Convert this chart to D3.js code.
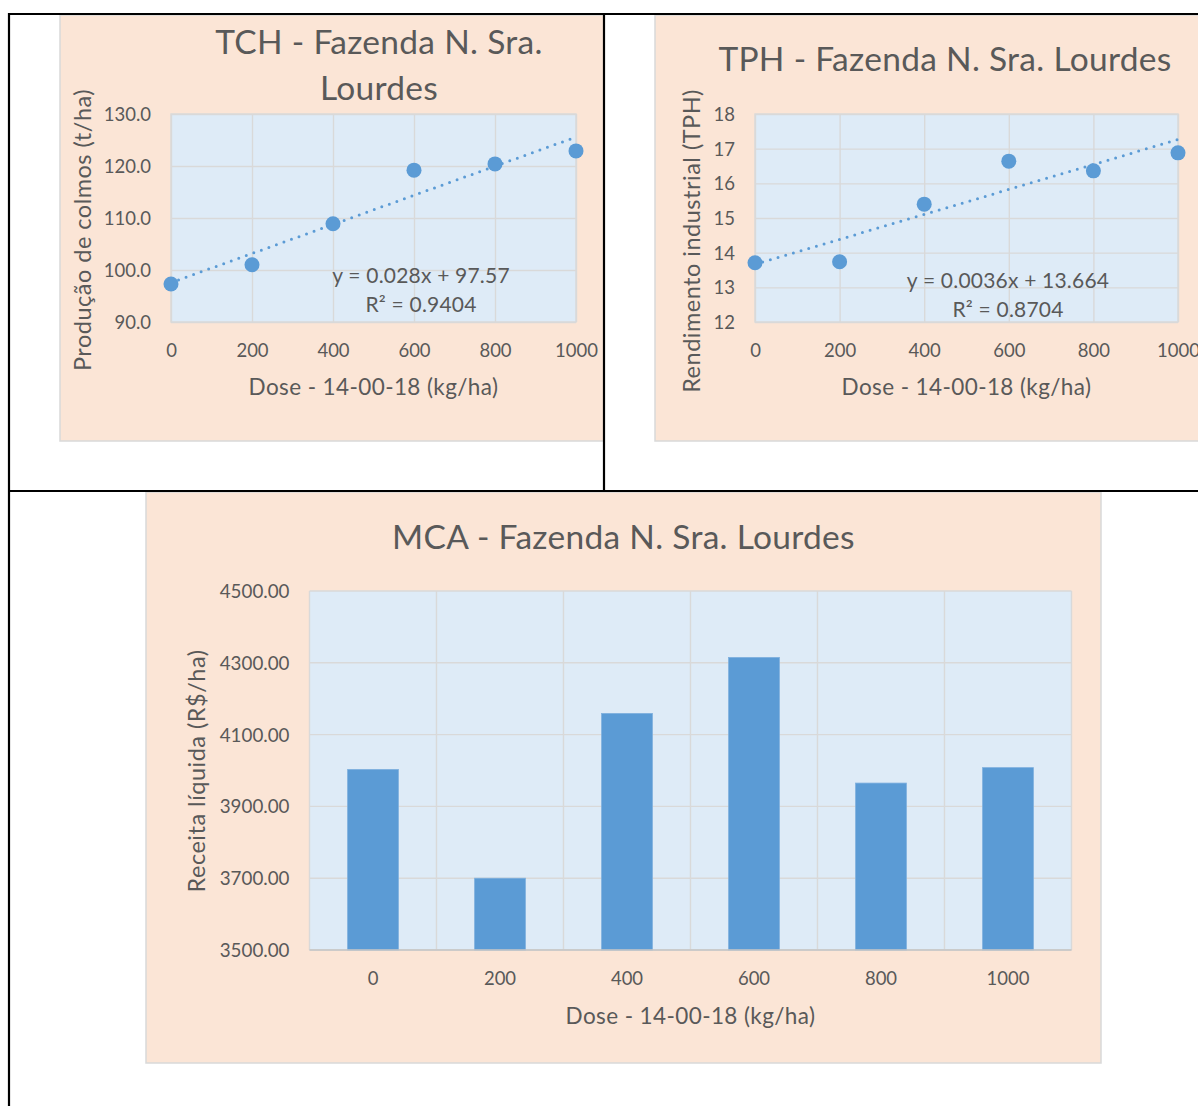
<!DOCTYPE html>
<html>
<head>
<meta charset="utf-8">
<script src="https://cdn.jsdelivr.net/npm/d3@7"></script>
<style>
  html, body { margin: 0; padding: 0; background: #fff; }
  svg { display: block; }
  text { font-family: Lato, "Open Sans", sans-serif; fill: #595959; }
  .title { font-size: 33.5px; letter-spacing: 0.3px; }
  .axtitle { font-size: 22.5px; letter-spacing: 0.4px; }
  .ytitle { font-size: 23.5px; letter-spacing: 0.5px; }
  .eq { font-size: 21px; letter-spacing: 0.2px; }
</style>
</head>
<body>
<script>
// ---------------- DATA ----------------
const doses = [0, 200, 400, 600, 800, 1000];
const doseTicks = [0, 200, 400, 600, 800, 1000];
const doseLabels = ["0", "200", "400", "600", "800", "1000"];

const tchValues = [97.3, 101.0, 108.9, 119.2, 120.4, 122.9];
const tchTicks = [90, 100, 110, 120, 130];
const tchTrend = [0.028, 97.57];           // slope, intercept
const tchEquation = ["y = 0.028x + 97.57", "R² = 0.9404"];

const tphValues = [13.71, 13.74, 15.40, 16.64, 16.36, 16.88];
const tphTicks = [12, 13, 14, 15, 16, 17, 18];
const tphTrend = [0.0036, 13.664];
const tphEquation = ["y = 0.0036x + 13.664", "R² = 0.8704"];

const mcaValues = [4003, 3700, 4159, 4315, 3965, 4008];
const mcaTicks = [3500, 3700, 3900, 4100, 4300, 4500];

const xTitle = "Dose - 14-00-18 (kg/ha)";

// ---------------- STYLE ----------------
const PEACH = "#FBE5D6", PLOT = "#DEEBF7", GRID = "#D9D9D9", BLUE = "#5B9BD5";
const TICK_SIZE = 18.5;

const svg = d3.select("body").append("svg").attr("width", 1198).attr("height", 1106);

// chart backgrounds
svg.append("rect").attr("x", 60).attr("y", 15).attr("width", 544).attr("height", 426)
  .attr("fill", PEACH).attr("stroke", GRID).attr("stroke-width", 1.5);
svg.append("rect").attr("x", 655).attr("y", 15).attr("width", 600).attr("height", 426)
  .attr("fill", PEACH).attr("stroke", GRID).attr("stroke-width", 1.5);
svg.append("rect").attr("x", 146).attr("y", 492).attr("width", 955).attr("height", 571)
  .attr("fill", PEACH).attr("stroke", GRID).attr("stroke-width", 1.5);

// ---------------- SCATTER CHART FUNCTION ----------------
function scatter(opt) {
  const g = svg.append("g");
  const x = d3.scaleLinear().domain([0, 1000]).range([opt.left, opt.right]);
  const y = d3.scaleLinear().domain(opt.yDomain).range([opt.bottom, opt.top]);

  g.append("rect").attr("x", opt.left).attr("y", opt.top)
    .attr("width", opt.right - opt.left).attr("height", opt.bottom - opt.top)
    .attr("fill", PLOT);

  // gridlines via axes
  const gy = g.append("g").attr("transform", `translate(${opt.left},0)`)
    .call(d3.axisLeft(y).tickValues(opt.yTicks).tickSize(-(opt.right - opt.left)).tickFormat(""));
  const gx = g.append("g").attr("transform", `translate(0,${opt.bottom})`)
    .call(d3.axisBottom(x).tickValues(doseTicks).tickSize(-(opt.bottom - opt.top)).tickFormat(""));
  [gy, gx].forEach(a => {
    a.select(".domain").remove();
    a.selectAll("line").attr("stroke", GRID).attr("stroke-width", 1.4);
  });
  g.append("rect").attr("x", opt.left).attr("y", opt.top)
    .attr("width", opt.right - opt.left).attr("height", opt.bottom - opt.top)
    .attr("fill", "none").attr("stroke", GRID).attr("stroke-width", 1.4);

  // tick labels
  const ly = g.append("g").attr("transform", `translate(${opt.left - 20},0)`)
    .call(d3.axisLeft(y).tickValues(opt.yTicks).tickSize(0).tickPadding(0).tickFormat(opt.yFormat));
  ly.select(".domain").remove();
  ly.selectAll("text").attr("font-size", TICK_SIZE).attr("fill", "#595959")
    .attr("font-family", "Lato, sans-serif").attr("dy", "0.35em");
  const lx = g.append("g").attr("transform", `translate(0,${opt.bottom + 35})`)
    .call(d3.axisBottom(x).tickValues(doseTicks).tickSize(0).tickPadding(0).tickFormat((d, i) => doseLabels[i]));
  lx.select(".domain").remove();
  lx.selectAll("text").attr("font-size", TICK_SIZE).attr("fill", "#595959")
    .attr("font-family", "Lato, sans-serif").attr("dy", 0);

  // trendline
  const line = d3.line().x(d => x(d)).y(d => y(opt.trend[0] * d + opt.trend[1]));
  g.append("path").attr("d", line([0, 1000])).attr("fill", "none")
    .attr("stroke", BLUE).attr("stroke-width", 3).attr("stroke-linecap", "round")
    .attr("stroke-dasharray", "0 8");

  // points
  g.selectAll("circle.pt").data(doses).join("circle").attr("class", "pt")
    .attr("cx", d => x(d)).attr("cy", (d, i) => y(opt.values[i])).attr("r", 7.5)
    .attr("fill", BLUE);

  // equation
  g.append("text").attr("class", "eq").attr("x", opt.eqX).attr("y", opt.eqY)
    .attr("text-anchor", "middle").text(opt.eq[0]);
  g.append("text").attr("class", "eq").attr("x", opt.eqX).attr("y", opt.eqY + 28.5)
    .attr("text-anchor", "middle").text(opt.eq[1]);

  // titles
  opt.title.forEach((t, i) => {
    g.append("text").attr("class", "title").attr("x", opt.titleX).attr("y", opt.titleY + i * 46)
      .attr("text-anchor", "middle").text(t);
  });
  g.append("text").attr("class", "axtitle").attr("x", (opt.left + opt.right) / 2).attr("y", 395)
    .attr("text-anchor", "middle").text(xTitle);
  g.append("text").attr("class", "ytitle")
    .attr("transform", `translate(${opt.yTitleX},${opt.yTitleY}) rotate(-90)`)
    .attr("text-anchor", "middle").text(opt.yTitle);
}

scatter({
  left: 171, right: 576, top: 114, bottom: 322,
  yDomain: [90, 130], yTicks: tchTicks, yFormat: d3.format(".1f"),
  values: tchValues, trend: tchTrend, eq: tchEquation, eqX: 421, eqY: 283,
  title: ["TCH - Fazenda N. Sra.", "Lourdes"], titleX: 379, titleY: 54,
  yTitle: "Produção de colmos (t/ha)", yTitleX: 91, yTitleY: 230
});

scatter({
  left: 755, right: 1178, top: 114, bottom: 322,
  yDomain: [12, 18], yTicks: tphTicks, yFormat: d3.format("d"),
  values: tphValues, trend: tphTrend, eq: tphEquation, eqX: 1008, eqY: 288,
  title: ["TPH - Fazenda N. Sra. Lourdes"], titleX: 945, titleY: 71,
  yTitle: "Rendimento industrial (TPH)", yTitleX: 700, yTitleY: 241
});

// ---------------- BAR CHART ----------------
(function () {
  const left = 309.5, right = 1071.5, top = 591, bottom = 950;
  const g = svg.append("g");
  const x = d3.scaleBand().domain(doseLabels).range([left, right]).paddingInner(0.6).paddingOuter(0.3);
  const xb = d3.scaleBand().domain(doseLabels).range([left, right]);
  const y = d3.scaleLinear().domain([3500, 4500]).range([bottom, top]);

  g.append("rect").attr("x", left).attr("y", top).attr("width", right - left)
    .attr("height", bottom - top).attr("fill", PLOT);

  // horizontal gridlines
  g.selectAll("line.hg").data(mcaTicks).join("line").attr("class", "hg")
    .attr("x1", left).attr("x2", right).attr("y1", d => y(d)).attr("y2", d => y(d))
    .attr("stroke", GRID).attr("stroke-width", 1.4);
  // vertical gridlines at category boundaries
  const bounds = doseLabels.map(d => xb(d)).concat([right]);
  g.selectAll("line.vg").data(bounds).join("line").attr("class", "vg")
    .attr("x1", d => d).attr("x2", d => d).attr("y1", top).attr("y2", bottom)
    .attr("stroke", GRID).attr("stroke-width", 1.4);

  // bars
  g.selectAll("rect.bar").data(mcaValues).join("rect").attr("class", "bar")
    .attr("x", (d, i) => x(doseLabels[i])).attr("width", x.bandwidth())
    .attr("y", d => y(d)).attr("height", d => bottom - y(d))
    .attr("fill", BLUE).attr("stroke", "#7FB0DE").attr("stroke-width", 0.8);

  // axis line
  g.append("line").attr("x1", left).attr("x2", right).attr("y1", bottom).attr("y2", bottom)
    .attr("stroke", "#C4C4C4").attr("stroke-width", 1.6);

  // tick labels
  const ly = g.append("g").attr("transform", `translate(${left - 20},0)`)
    .call(d3.axisLeft(y).tickValues(mcaTicks).tickSize(0).tickPadding(0).tickFormat(d3.format(".2f")));
  ly.select(".domain").remove();
  ly.selectAll("text").attr("font-size", 18.8).attr("fill", "#595959")
    .attr("font-family", "Lato, sans-serif").attr("dy", "0.35em");
  const lx = g.append("g").attr("transform", `translate(0,${bottom + 35})`)
    .call(d3.axisBottom(xb).tickSize(0).tickPadding(0));
  lx.select(".domain").remove();
  lx.selectAll("text").attr("font-size", TICK_SIZE).attr("fill", "#595959")
    .attr("font-family", "Lato, sans-serif").attr("dy", 0);

  g.append("text").attr("class", "title").attr("x", 623.5).attr("y", 549).attr("text-anchor", "middle")
    .text("MCA - Fazenda N. Sra. Lourdes");
  g.append("text").attr("class", "axtitle").attr("x", (left + right) / 2).attr("y", 1024)
    .attr("text-anchor", "middle").text(xTitle);
  g.append("text").attr("class", "ytitle").attr("transform", `translate(205,771) rotate(-90)`)
    .attr("text-anchor", "middle").text("Receita líquida (R$/ha)");
})();

// ---------------- TABLE BORDERS ----------------
const border = svg.append("g").attr("stroke", "#000").attr("stroke-width", 2.2);
border.append("line").attr("x1", 8).attr("x2", 1198).attr("y1", 14).attr("y2", 14);
border.append("line").attr("x1", 9).attr("x2", 9).attr("y1", 13).attr("y2", 1106);
border.append("line").attr("x1", 604).attr("x2", 604).attr("y1", 14).attr("y2", 491);
border.append("line").attr("x1", 8).attr("x2", 1198).attr("y1", 491).attr("y2", 491);
</script>
</body>
</html>
